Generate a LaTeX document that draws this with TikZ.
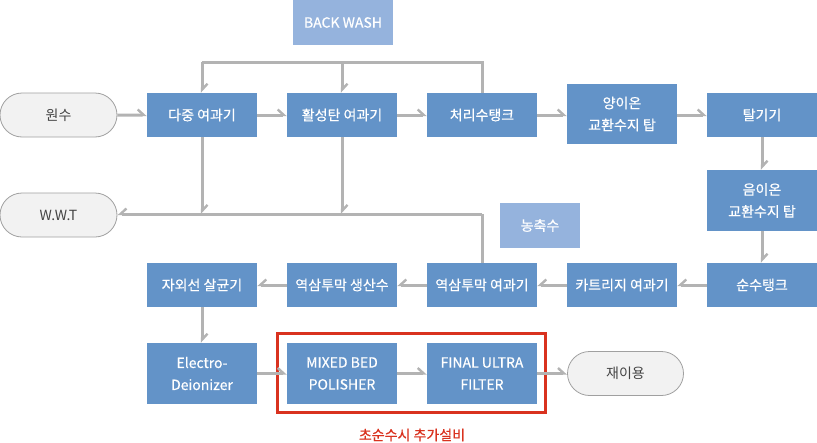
\documentclass[tikz,border=0pt]{standalone}
\usepackage{fontspec}
\setmainfont{Noto Sans CJK KR}
\newfontfamily\boxfont{Noto Sans CJK KR}[FakeBold=0.5]
\usetikzlibrary{arrows.meta,shapes.misc}
\definecolor{boxblue}{HTML}{6393C8}
\definecolor{lightblue}{HTML}{95B3DD}
\definecolor{linegray}{HTML}{B3B3B3}
\definecolor{pillfill}{HTML}{F2F2F2}
\definecolor{pillline}{HTML}{A0A0A0}
\definecolor{pilltext}{HTML}{444444}
\definecolor{redline}{HTML}{D9321F}
\tikzset{
  procbox/.style={fill=boxblue, text=white, minimum width=110pt, minimum height=44pt,
    inner sep=0pt, font=\boxfont\fontsize{14}{22}\selectfont, align=center},
  tallbox/.style={procbox, minimum height=61pt},
  labelbox/.style={fill=lightblue, text=white, minimum height=45pt, inner sep=0pt,
    font=\boxfont\fontsize{14}{22}\selectfont},
  pill/.style={rounded rectangle, draw=pillline, line width=0.8pt, fill=pillfill,
    text=pilltext, minimum width=116pt, minimum height=44pt, inner sep=0pt,
    font=\fontsize{14}{22}\selectfont},
  flow/.style={draw=linegray, line width=3pt},
  arr/.style={flow, -{Straight Barb[harpoon, length=6pt, width=11pt, line width=2.4pt]}},
  arrs/.style={flow, -{Straight Barb[harpoon, swap, length=6pt, width=11pt, line width=2.4pt]}},
}
\begin{document}
\begin{tikzpicture}[x=1pt, y=-1pt]
\useasboundingbox (0,0) rectangle (817,442);
% labels
\node[labelbox, minimum width=100pt] (bw) at (343,22.5) {BACK WASH};
\node[labelbox, minimum width=80pt] (nc) at (540,225.5) {농축수};
% row 1
\node[pill, minimum width=117pt] (raw) at (58.5,115) {원수};
\node[procbox] (multi) at (202,115) {다중 여과기};
\node[procbox] (carbon) at (342,115) {활성탄 여과기};
\node[procbox] (tank) at (482,115) {처리수탱크};
\node[procbox, minimum height=60pt] (cation) at (622,114) {양이온\\교환수지 탑};
\node[procbox] (degas) at (762,115) {탈기기};
% wwt
\node[pill, minimum width=117pt] (wwt) at (58.5,215) {W.W.T};
% right column
\node[tallbox] (anion) at (762,200.5) {음이온\\교환수지 탑};
\node[procbox] (pure) at (762,285) {순수탱크};
% row 3
\node[procbox] (cart) at (622,285) {카트리지 여과기};
\node[procbox] (ro) at (482,285) {역삼투막 여과기};
\node[procbox] (roprod) at (342,285) {역삼투막 생산수};
\node[procbox] (uv) at (202,285) {자외선 살균기};
% row 4
\node[tallbox] (edi) at (202,373.5) {Electro-\\Deionizer};
\node[tallbox] (mixed) at (342,373.5) {MIXED BED\\POLISHER};
\node[tallbox] (final) at (482,373.5) {FINAL ULTRA\\FILTER};
\node[pill] (reuse) at (625.5,373.5) {재이용};
% red frame
\node[draw=redline, line width=3pt, minimum width=268pt, minimum height=79pt, inner sep=0pt] (frame) at (411.5,373) {};
\node[text=redline, font=\boxfont\fontsize{14}{16}\selectfont] (frlabel) at (412,435) {초순수시 추가설비};
% coordinates
\coordinate (bwr) at (tank.north |- 0,62);
\coordinate (bwl) at (multi.north |- 0,62);
\coordinate (bwm) at (carbon.north |- 0,62);
\coordinate (wr) at (ro.north |- 0,214);
\coordinate (wl) at (multi.south |- 0,214);
\coordinate (wm) at (carbon.south |- 0,214);
% row 1 flow
\draw[arr] (raw) -- (multi);
\draw[arr] (multi) -- (carbon);
\draw[arr] (carbon) -- (tank);
\draw[arr] (tank) -- (tank -| cation.west);
\draw[arr] (cation.east |- degas) -- (degas);
\draw[arr] (degas) -- (anion);
\draw[arr] (anion) -- (pure);
% back wash
\draw[flow] (tank.north) -- (bwr) -- (bwl);
\draw[arr] (bwl) -- (multi.north);
\draw[arr] (bwm) -- (carbon.north);
% concentrate to WWT
\draw[flow] (ro.north) -- (wr);
\draw[arrs] (wr) -- (wwt.east |- wr);
\draw[arr] (multi.south) -- (wl);
\draw[arr] (carbon.south) -- (wm);
% row 3 flow
\draw[arrs] (pure) -- (cart);
\draw[arrs] (cart) -- (ro);
\draw[arrs] (ro) -- (roprod);
\draw[arrs] (roprod) -- (uv);
\draw[arr] (uv) -- (edi);
% row 4 flow
\draw[arr] (edi) -- (mixed);
\draw[arr] (mixed) -- (final);
\draw[arr] (final) -- (reuse);
\end{tikzpicture}
\end{document}
